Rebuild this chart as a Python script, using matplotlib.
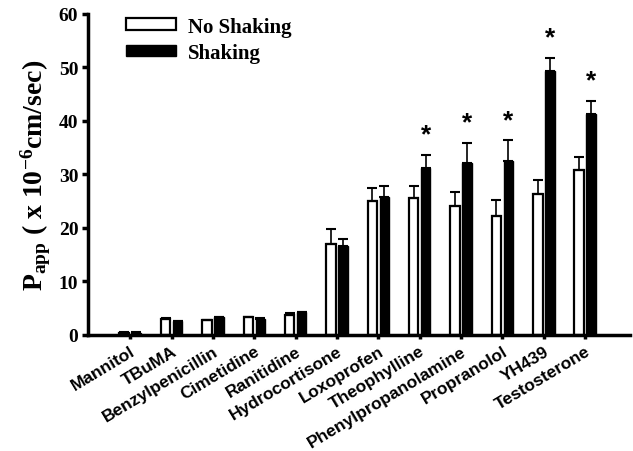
import matplotlib.pyplot as plt
import numpy as np

compounds = ["Mannitol", "TBuMA", "Benzylpenicillin", "Cimetidine", "Ranitidine",
             "Hydrocortisone", "Loxoprofen", "Theophylline", "Phenylpropanolamine",
             "Propranolol", "YH439", "Testosterone"]
no_shaking = [0.4, 2.9, 2.7, 3.3, 3.75, 17.0, 25.0, 25.6, 24.0, 22.2, 26.3, 30.9]
no_shaking_err = [0.2, 0.2, 0.1, 0.1, 0.3, 2.8, 2.5, 2.3, 2.75, 3.0, 2.7, 2.4]
shaking = [0.4, 2.5, 3.3, 3.0, 4.25, 16.6, 25.8, 31.1, 32.2, 32.5, 49.4, 41.2]
shaking_err = [0.1, 0.1, 0.1, 0.1, 0.1, 1.4, 2.0, 2.6, 3.7, 3.9, 2.4, 2.6]
significant = [False] * 7 + [True] * 5

plt.rcParams['mathtext.fontset'] = 'custom'
plt.rcParams['mathtext.rm'] = 'Liberation Serif:bold'
plt.rcParams['mathtext.bf'] = 'Liberation Serif:bold'
plt.rcParams['mathtext.it'] = 'Liberation Serif:bold'

fig = plt.figure(figsize=(6.33, 4.52), dpi=100)
ax = fig.add_axes([0.139, 0.257, 0.856, 0.710])

x = np.arange(len(compounds))
off = 0.145
w = 0.23
ax.bar(x - off, no_shaking, w, color="white", edgecolor="black", linewidth=1.6,
       yerr=[np.zeros(len(x)), no_shaking_err], capsize=3.5,
       error_kw=dict(elinewidth=1.2, capthick=1.5, ecolor="black"), label="No Shaking")
ax.bar(x + off, shaking, w, color="black", edgecolor="black", linewidth=1.0,
       yerr=[np.zeros(len(x)), shaking_err], capsize=3.5,
       error_kw=dict(elinewidth=1.2, capthick=1.5, ecolor="black"), label="Shaking")

for i in range(len(x)):
    if significant[i]:
        ax.text(x[i] + off, shaking[i] + shaking_err[i] + 1.5, "*", ha="center", va="bottom",
                fontsize=19, fontweight="bold", family="Liberation Sans")

ax.set_xlim(-1.02, 12.08)
ax.set_ylim(0, 60)
ax.set_yticks(range(0, 61, 10))
for s in ["top", "right"]:
    ax.spines[s].set_visible(False)
ax.spines["left"].set_linewidth(2.5)
ax.spines["bottom"].set_linewidth(2.5)
ax.tick_params(axis="y", direction="out", length=4, width=2.5, pad=3)
ax.tick_params(axis="x", direction="out", length=3, width=2.5, pad=3)
for t in ax.get_yticklabels():
    t.set_family("Liberation Serif")
    t.set_fontweight("bold")
    t.set_fontsize(14)

ax.set_xticks(x)
ax.set_xticklabels(compounds, rotation=31, ha="right", rotation_mode="anchor",
                   family="Liberation Sans", fontweight="bold", fontsize=12.5)

ax.set_ylabel(r"$\mathbf{P_{app}}$" + r" ( x 10$^{\mathbf{-6}}$cm/sec)",
              family="Liberation Serif", fontweight="bold", fontsize=20, labelpad=4)

ax.legend(loc="upper left", bbox_to_anchor=(0.036, 1.05), frameon=False,
          prop=dict(family="Liberation Serif", weight="bold", size=15),
          handlelength=2.4, handleheight=0.5, handletextpad=0.55, labelspacing=0.3)

fig.savefig("out.png", dpi=100)
